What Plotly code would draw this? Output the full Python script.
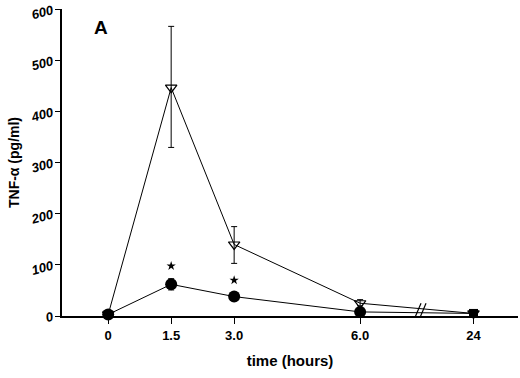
import plotly.graph_objects as go

# Data
time_labels = ["0", "1.5", "3.0", "6.0", "24"]
x_pos = [0, 1.5, 3.0, 6.0, 8.7]          # broken axis: 24 h drawn after the break
tri_vals = [3, 447, 140, 25, 5]
tri_err_plus = [0, 120, 35, 7, 2]
tri_err_minus = [0, 117, 37, 5, 2]
circ_vals = [3, 62, 38, 8, 5]
circ_err = [0, 11, 7, 2, 1]
star_x = [1.5, 3.0]
star_y = [98, 70]
y_ticks = [0, 100, 200, 300, 400, 500, 600]

font_bold = "Liberation Sans"

fig = go.Figure()
fig.add_trace(go.Scatter(
    x=x_pos, y=tri_vals, mode="lines+markers",
    line=dict(color="black", width=1),
    marker=dict(symbol="triangle-down-open", size=10, color="black", line=dict(width=1.2, color="black")),
    error_y=dict(type="data", symmetric=False, array=tri_err_plus, arrayminus=tri_err_minus,
                 color="black", thickness=1, width=3),
    cliponaxis=False, showlegend=False))
fig.add_trace(go.Scatter(
    x=x_pos, y=circ_vals, mode="lines+markers",
    line=dict(color="black", width=1),
    marker=dict(symbol=["circle", "circle", "circle", "circle", "square"], size=[12, 12, 12, 12, 9],
                color="black", opacity=1, line=dict(width=0)),
    error_y=dict(type="data", array=circ_err, color="black", thickness=1, width=3),
    cliponaxis=False, showlegend=False))
fig.add_trace(go.Scatter(
    x=star_x, y=star_y, mode="markers",
    marker=dict(symbol="star", size=7, color="black"),
    cliponaxis=False, showlegend=False))

# axis break marks
for dx in (0.0, 0.12):
    fig.add_shape(type="line", xref="x", yref="y",
                  x0=7.26 + dx, y0=-12, x1=7.45 + dx, y1=25,
                  line=dict(color="black", width=1.2))

fig.add_annotation(x=0.065, y=0.98, xref="paper", yref="paper", text="<b>A</b>",
                   showarrow=False, font=dict(family=font_bold, size=19, color="black"))

fig.update_layout(
    width=520, height=378,
    margin=dict(l=62, r=2, t=9, b=62),
    plot_bgcolor="white", paper_bgcolor="white",
    font=dict(family=font_bold, color="black"),
    xaxis=dict(range=[-1.1, 9.76], tickvals=x_pos, ticktext=time_labels, automargin=False,
               ticks="outside", ticklen=6, tickwidth=1.2, tickcolor="black",
               showline=True, linecolor="black", linewidth=2, showgrid=False, zeroline=False,
               tickfont=dict(size=13, family=font_bold, weight="bold"),
               title=dict(text="<b>time (hours)</b>", font=dict(size=15, family=font_bold), standoff=14)),
    yaxis=dict(range=[0, 601], tickvals=y_ticks, ticktext=["<i>%d</i>" % v for v in y_ticks],
               automargin=False, ticklabeloverflow="allow",
               ticks="outside", ticklen=5, tickwidth=1.2, tickcolor="black", tickangle=-15,
               showline=True, linecolor="black", linewidth=2, showgrid=False, zeroline=False,
               tickfont=dict(size=13, family=font_bold, weight="bold"),
               title=dict(text="<b>TNF-α (pg/ml)</b>", font=dict(size=14, family=font_bold), standoff=6)),
)

fig.write_html("out.html", config={"displayModeBar": False},
               post_script="document.body.style.margin='0';")
